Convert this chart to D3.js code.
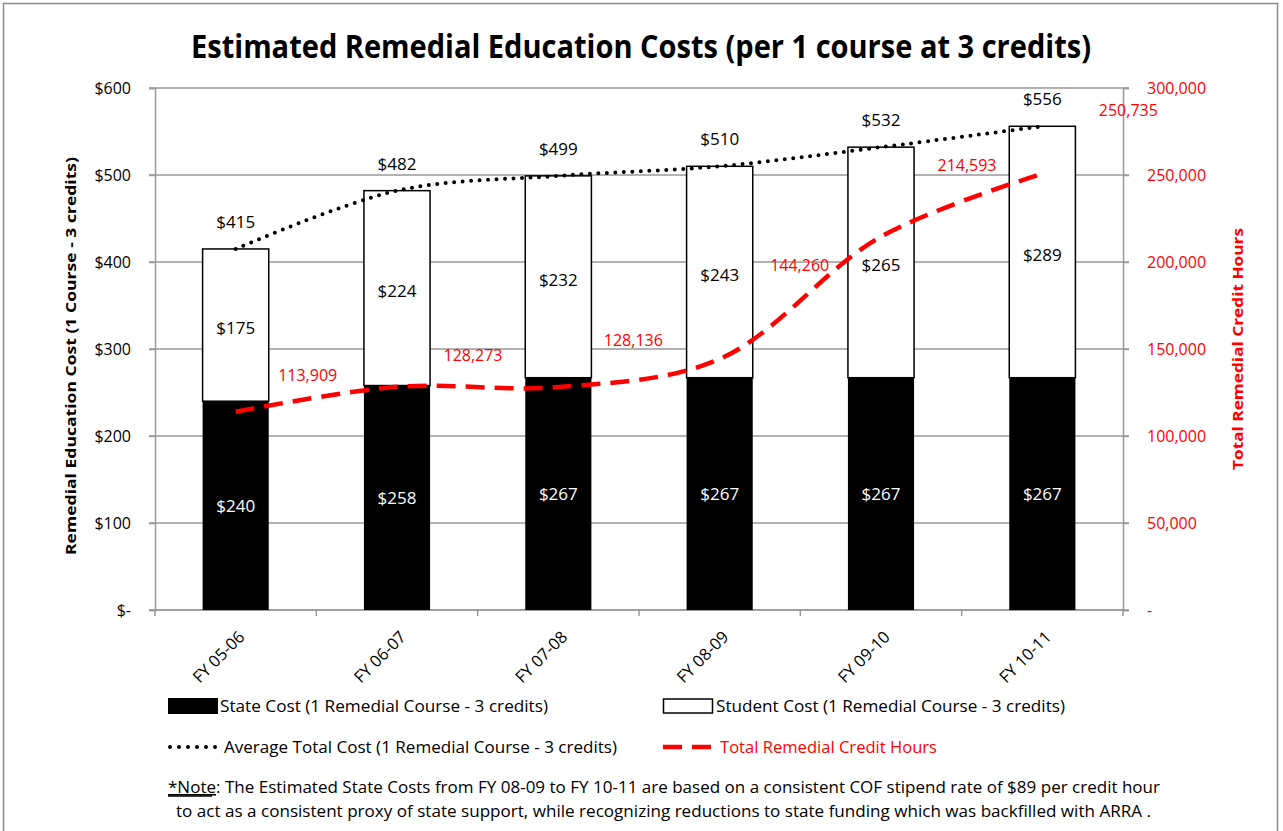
<!DOCTYPE html>
<html>
<head>
<meta charset="utf-8">
<script src="https://cdn.jsdelivr.net/npm/d3@7"></script>
<style>
  html, body { margin: 0; padding: 0; background: #fff; }
  svg { display: block; }
  text { font-family: "Open Sans", "Noto Sans", sans-serif; }
</style>
</head>
<body>
<script>
// ---- data ----
const categories = ["FY 05-06", "FY 06-07", "FY 07-08", "FY 08-09", "FY 09-10", "FY 10-11"];
const stateCost = [240, 258, 267, 267, 267, 267];
const studentCost = [175, 224, 232, 243, 265, 289];
const totalCost = [415, 482, 499, 510, 532, 556];
const creditHours = [113909, 128273, 128136, 144260, 214593, 250735];
const costTicks = [0, 100, 200, 300, 400, 500, 600];
const hourTicks = [0, 50000, 100000, 150000, 200000, 250000, 300000];
// manual label nudges (pixels) for credit-hour labels
const hourLabelOffsets = [[72, -37], [76, -32], [75, -47], [80, -94], [86, -72], [86, -64]];

const W = 1283, H = 831;
const margin = { left: 155, right: 1123, top: 88, bottom: 610 };

const svg = d3.select("body").append("svg").attr("width", W).attr("height", H);

// frame
svg.append("rect").attr("x", 3.5).attr("y", 3.5).attr("width", 1274).attr("height", 830)
  .attr("fill", "#fff").attr("stroke", "#8c8c8c").attr("stroke-width", 1.5);

// title
svg.append("text").attr("x", 641).attr("y", 58).attr("text-anchor", "middle")
  .attr("font-size", 32).attr("font-weight", "bold")
  .attr("textLength", 900).attr("lengthAdjust", "spacingAndGlyphs")
  .text("Estimated Remedial Education Costs (per 1 course at 3 credits)");

const x = d3.scaleBand().domain(categories).range([margin.left, margin.right]).paddingInner(0.59).paddingOuter(0.295);
const xb = d3.scaleBand().domain(categories).range([margin.left, margin.right]);
const y = d3.scaleLinear().domain([0, 600]).range([margin.bottom, margin.top]);
const y2 = d3.scaleLinear().domain([0, 300000]).range([margin.bottom, margin.top]);
const cx = c => xb(c) + xb.bandwidth() / 2;

// gridlines
svg.append("g").selectAll("line").data(costTicks).join("line")
  .attr("x1", margin.left - 6).attr("x2", margin.right + 6)
  .attr("y1", d => y(d)).attr("y2", d => y(d))
  .attr("stroke", "#999").attr("stroke-width", 1.5);

// left axis
const gL = svg.append("g").attr("transform", `translate(${margin.left},0)`)
  .call(d3.axisLeft(y).tickValues(costTicks).tickSize(6).tickPadding(18)
    .tickFormat(d => d === 0 ? "$-" : "$" + d));
gL.select(".domain").attr("stroke", "#999").attr("stroke-width", 1.5);
gL.selectAll(".tick line").attr("stroke", "#999").attr("stroke-width", 1.5);
gL.selectAll("text").attr("font-size", 16).attr("fill", "#000").attr("font-family", "Open Sans");

// right axis
const gR = svg.append("g").attr("transform", `translate(${margin.right},0)`)
  .call(d3.axisRight(y2).tickValues(hourTicks).tickSize(6).tickPadding(18)
    .tickFormat(d => d === 0 ? "-" : d3.format(",")(d)));
gR.select(".domain").attr("stroke", "#999").attr("stroke-width", 1.5);
gR.selectAll(".tick line").attr("stroke", "#999").attr("stroke-width", 1.5);
gR.selectAll("text").attr("font-size", 16).attr("fill", "#ff0000").attr("font-family", "Open Sans");

// bottom axis
const gB = svg.append("g").attr("transform", `translate(0,${margin.bottom})`);
gB.append("line").attr("x1", margin.left).attr("x2", margin.right).attr("stroke", "#999").attr("stroke-width", 1.5);
gB.selectAll("line.tk").data(categories.concat(["__end"])).join("line").attr("class", "tk")
  .attr("x1", (d, i) => margin.left + i * xb.bandwidth()).attr("x2", (d, i) => margin.left + i * xb.bandwidth())
  .attr("y1", 0).attr("y2", 6).attr("stroke", "#999").attr("stroke-width", 1.5);
gB.selectAll("text").data(categories).join("text")
  .attr("transform", d => `translate(${cx(d) + 10},${28}) rotate(-45)`)
  .attr("text-anchor", "end").attr("font-size", 16.5).text(d => d);

// axis titles
svg.append("text").attr("transform", "translate(76,356) rotate(-90)").attr("text-anchor", "middle")
  .attr("font-size", 15).attr("font-weight", "bold")
  .attr("textLength", 398).attr("lengthAdjust", "spacingAndGlyphs")
  .text("Remedial Education  Cost (1 Course - 3 credits)");
svg.append("text").attr("transform", "translate(1243,349) rotate(-90)").attr("text-anchor", "middle")
  .attr("font-size", 15).attr("font-weight", "bold").attr("fill", "#ff0000")
  .attr("textLength", 242).attr("lengthAdjust", "spacingAndGlyphs")
  .text("Total Remedial Credit Hours");

// bars
const bars = svg.append("g");
bars.selectAll("rect.state").data(categories).join("rect").attr("class", "state")
  .attr("x", d => x(d)).attr("width", x.bandwidth())
  .attr("y", (d, i) => y(stateCost[i])).attr("height", (d, i) => y(0) - y(stateCost[i]))
  .attr("fill", "#000");
bars.selectAll("rect.student").data(categories).join("rect").attr("class", "student")
  .attr("x", d => x(d)).attr("width", x.bandwidth())
  .attr("y", (d, i) => y(stateCost[i] + studentCost[i]))
  .attr("height", (d, i) => y(stateCost[i]) - y(stateCost[i] + studentCost[i]))
  .attr("fill", "#fff").attr("stroke", "#000").attr("stroke-width", 1.5);

// bar labels
bars.selectAll("text.sl").data(categories).join("text").attr("class", "sl")
  .attr("x", d => cx(d)).attr("y", (d, i) => (y(0) + y(stateCost[i])) / 2 + 6)
  .attr("text-anchor", "middle").attr("font-size", 17).attr("fill", "#fff")
  .text((d, i) => "$" + stateCost[i]);
bars.selectAll("text.stl").data(categories).join("text").attr("class", "stl")
  .attr("x", d => cx(d)).attr("y", (d, i) => (y(stateCost[i]) + y(stateCost[i] + studentCost[i])) / 2 + 9)
  .attr("text-anchor", "middle").attr("font-size", 17).attr("fill", "#000")
  .text((d, i) => "$" + studentCost[i]);

// average total cost line (dotted)
const lineCost = d3.line().x((d, i) => cx(categories[i])).y(d => y(d)).curve(d3.curveCatmullRom.alpha(0.5));
svg.append("path").datum(totalCost).attr("d", lineCost)
  .attr("fill", "none").attr("stroke", "#000").attr("stroke-width", 4)
  .attr("stroke-linecap", "round").attr("stroke-dasharray", "0,8.5");
svg.append("g").selectAll("text").data(totalCost).join("text")
  .attr("x", (d, i) => cx(categories[i])).attr("y", d => y(d) - 21)
  .attr("text-anchor", "middle").attr("font-size", 17).text(d => "$" + d);

// credit hours line (red dashed)
const lineHours = d3.line().x((d, i) => cx(categories[i])).y(d => y2(d)).curve(d3.curveCatmullRom.alpha(0.5));
svg.append("path").datum(creditHours).attr("d", lineHours)
  .attr("fill", "none").attr("stroke", "#ff0000").attr("stroke-width", 4.5)
  .attr("stroke-dasharray", "19,10");
svg.append("g").selectAll("text").data(creditHours).join("text")
  .attr("x", (d, i) => cx(categories[i]) + hourLabelOffsets[i][0])
  .attr("y", (d, i) => y2(d) + hourLabelOffsets[i][1] + 6)
  .attr("text-anchor", "middle").attr("font-size", 16).attr("fill", "#ff0000")
  .text(d => d3.format(",")(d));

// legend
const lg = svg.append("g");
lg.append("rect").attr("x", 168).attr("y", 698).attr("width", 50).attr("height", 16).attr("fill", "#000");
lg.append("text").attr("x", 220).attr("y", 712).attr("font-size", 17)
  .attr("textLength", 328).attr("lengthAdjust", "spacingAndGlyphs")
  .text("State Cost (1 Remedial Course - 3 credits)");
lg.append("rect").attr("x", 663.5).attr("y", 699).attr("width", 49).attr("height", 14)
  .attr("fill", "#fff").attr("stroke", "#000").attr("stroke-width", 1.5);
lg.append("text").attr("x", 716).attr("y", 712).attr("font-size", 17)
  .attr("textLength", 349).attr("lengthAdjust", "spacingAndGlyphs")
  .text("Student Cost (1 Remedial Course - 3 credits)");
lg.append("line").attr("x1", 170).attr("x2", 216).attr("y1", 747).attr("y2", 747)
  .attr("stroke", "#000").attr("stroke-width", 4).attr("stroke-linecap", "round").attr("stroke-dasharray", "0,9");
lg.append("text").attr("x", 224).attr("y", 753).attr("font-size", 17)
  .attr("textLength", 393).attr("lengthAdjust", "spacingAndGlyphs")
  .text("Average Total Cost (1 Remedial Course - 3 credits)");
lg.append("line").attr("x1", 663).attr("x2", 713).attr("y1", 747).attr("y2", 747)
  .attr("stroke", "#ff0000").attr("stroke-width", 4.5).attr("stroke-dasharray", "19,10");
lg.append("text").attr("x", 720).attr("y", 753).attr("font-size", 17).attr("fill", "#ff0000")
  .attr("textLength", 217).attr("lengthAdjust", "spacingAndGlyphs")
  .text("Total Remedial Credit Hours");

// note
const n1 = svg.append("text").attr("x", 168).attr("y", 793).attr("font-size", 15.5)
  .attr("textLength", 992).attr("lengthAdjust", "spacingAndGlyphs");
n1.append("tspan").attr("text-decoration", "underline").text("*Note");
n1.append("tspan").text(": The Estimated  State Costs from FY 08-09 to FY 10-11 are based on a consistent COF stipend rate of $89 per credit hour");
svg.append("line").attr("x1", 168).attr("x2", 212).attr("y1", 796).attr("y2", 796).attr("stroke", "#000").attr("stroke-width", 1.3);
svg.append("text").attr("x", 176).attr("y", 817).attr("font-size", 15.5)
  .attr("textLength", 975).attr("lengthAdjust", "spacingAndGlyphs")
  .text("to act as a consistent proxy of state  support, while recognizing reductions to state funding which was backfilled with ARRA .");
</script>
</body>
</html>
